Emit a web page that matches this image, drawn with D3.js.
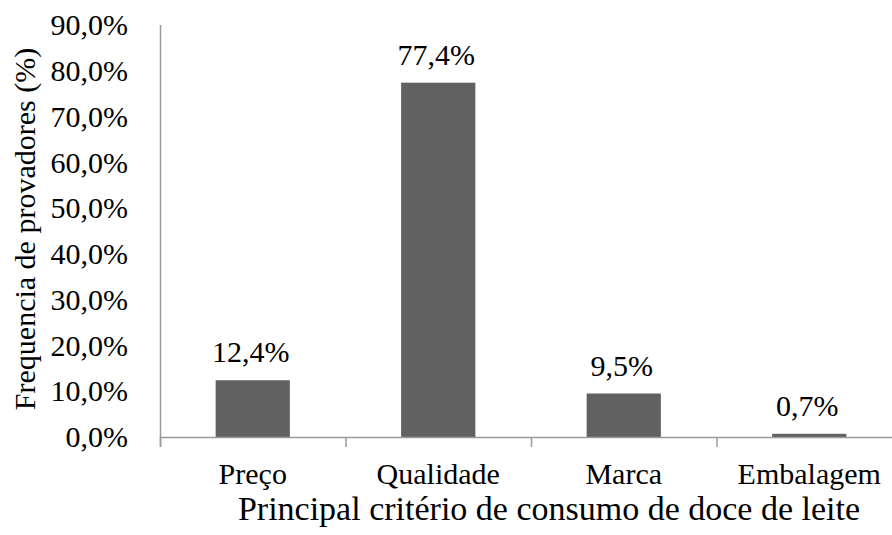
<!DOCTYPE html>
<html>
<head>
<meta charset="utf-8">
<script src="https://cdn.jsdelivr.net/npm/d3@7"></script>
<style>
  body { margin: 0; background: #fff; }
  svg text { font-family: "Liberation Serif", "Times New Roman", serif; fill: #000; }
</style>
</head>
<body>
<svg id="chart" width="892" height="535"></svg>
<script>
// data
var categories = ['Preço', 'Qualidade', 'Marca', 'Embalagem'];
var values = [12.4, 77.4, 9.5, 0.7];
var valueLabels = ['12,4%', '77,4%', '9,5%', '0,7%'];
var yTicks = [0, 10, 20, 30, 40, 50, 60, 70, 80, 90];

var svg = d3.select('#chart'),
  fontSize = 30,
  axisColor = '#9a9a9a',
  barColor = '#616161';

var x = d3.scaleBand()
  .domain(categories)
  .range([160, 902])
  .paddingInner(0.6)
  .paddingOuter(0.3);

var y = d3.scaleLinear()
  .domain([0, 90])
  .range([437, 25]);

var fmt = function (d) { return d.toFixed(1).replace('.', ',') + '%'; };

// y axis: line only, labels to the left
svg.append('line')
  .attr('x1', 160.5).attr('x2', 160.5)
  .attr('y1', y(90)).attr('y2', y(0) + 10)
  .attr('stroke', axisColor).attr('stroke-width', 1.5);

svg.selectAll('.ytick')
  .data(yTicks)
  .enter()
  .append('text')
  .attr('class', 'ytick')
  .attr('x', 128)
  .attr('y', function (d) { return y(d); })
  .attr('dy', '0.34em')
  .attr('text-anchor', 'end')
  .style('font-size', fontSize + 'px')
  .text(fmt);

// bars
svg.selectAll('.bar')
  .data(values)
  .enter()
  .append('rect')
  .attr('class', 'bar')
  .attr('x', function (d, i) { return x(categories[i]); })
  .attr('y', function (d) { return y(d); })
  .attr('width', x.bandwidth())
  .attr('height', function (d) { return y(0) - y(d); })
  .attr('fill', barColor);

// x axis line + boundary ticks
svg.append('line')
  .attr('x1', 160).attr('x2', 892)
  .attr('y1', y(0) + 0.5).attr('y2', y(0) + 0.5)
  .attr('stroke', axisColor).attr('stroke-width', 1.5);

var step = x.step();
svg.selectAll('.xtick')
  .data(categories)
  .enter()
  .append('line')
  .attr('class', 'xtick')
  .attr('x1', function (d) { return x(d) - step * 0.3 + 0.5; })
  .attr('x2', function (d) { return x(d) - step * 0.3 + 0.5; })
  .attr('y1', y(0)).attr('y2', y(0) + 10)
  .attr('stroke', axisColor).attr('stroke-width', 1.5);

// value labels
svg.selectAll('.vlabel')
  .data(values)
  .enter()
  .append('text')
  .attr('class', 'vlabel')
  .attr('x', function (d, i) { return x(categories[i]) + x.bandwidth() / 2 - 2; })
  .attr('y', function (d) { return y(d) - 18; })
  .attr('text-anchor', 'middle')
  .style('font-size', fontSize + 'px')
  .text(function (d, i) { return valueLabels[i]; });

// category labels
svg.selectAll('.xlabel')
  .data(categories)
  .enter()
  .append('text')
  .attr('class', 'xlabel')
  .attr('x', function (d) { return x(d) + x.bandwidth() / 2; })
  .attr('y', 484)
  .attr('text-anchor', 'middle')
  .style('font-size', fontSize + 'px')
  .text(function (d) { return d; });

// axis titles
svg.append('text')
  .attr('x', 549)
  .attr('y', 520)
  .attr('text-anchor', 'middle')
  .style('font-size', '34px')
  .text('Principal critério de consumo de doce de leite');

svg.append('text')
  .attr('transform', 'translate(35,229) rotate(-90)')
  .attr('text-anchor', 'middle')
  .style('font-size', fontSize + 'px')
  .text('Frequencia de provadores (%)');
</script>
</body>
</html>
